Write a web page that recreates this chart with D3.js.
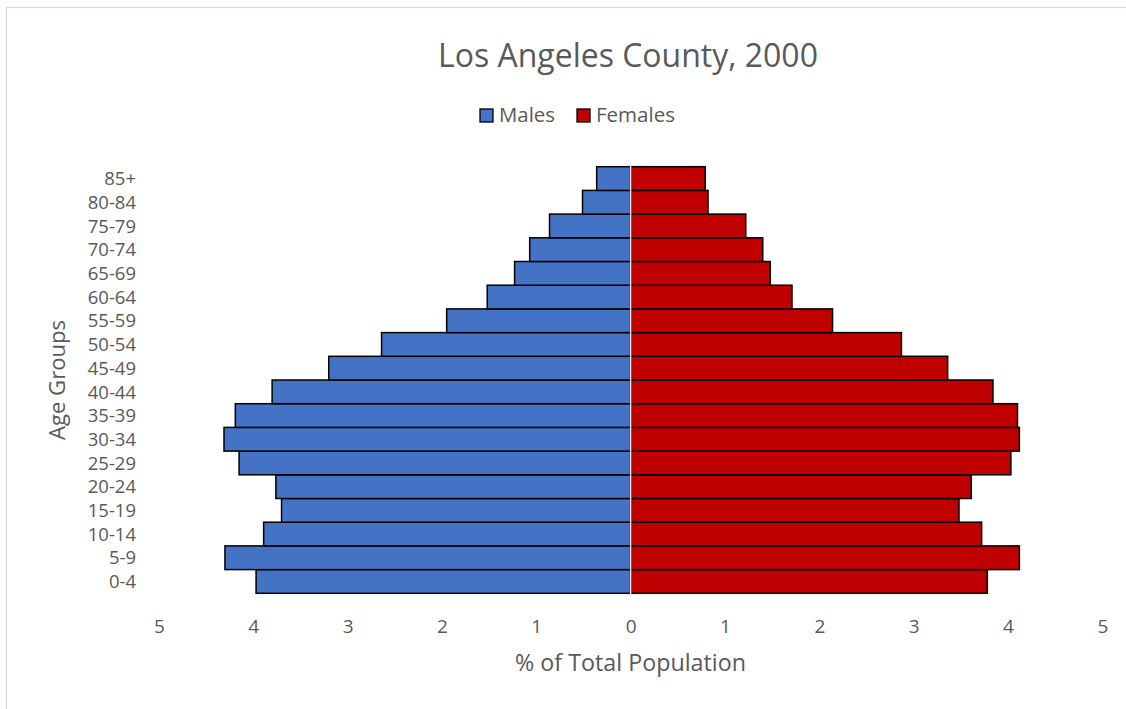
<!DOCTYPE html>
<html>
<head>
<meta charset="utf-8">
<script src="https://cdn.jsdelivr.net/npm/d3@7"></script>
<style>
  html, body { margin: 0; padding: 0; background: #fff; }
  svg { display: block; }
  text { font-family: "Open Sans", "Noto Sans", sans-serif; fill: #595959; }
</style>
</head>
<body>
<script>
// ---- data ----
const ageGroups = ["0-4","5-9","10-14","15-19","20-24","25-29","30-34","35-39","40-44","45-49","50-54","55-59","60-64","65-69","70-74","75-79","80-84","85+"];
const males   = [3.97, 4.30, 3.89, 3.70, 3.76, 4.15, 4.31, 4.19, 3.80, 3.20, 2.64, 1.95, 1.52, 1.23, 1.07, 0.86, 0.51, 0.36];
const females = [3.78, 4.12, 3.72, 3.48, 3.61, 4.03, 4.12, 4.10, 3.84, 3.36, 2.87, 2.14, 1.71, 1.48, 1.40, 1.22, 0.82, 0.79];
const xTicks = [-5,-4,-3,-2,-1,0,1,2,3,4,5];
const seriesNames = ["Males", "Females"];
const seriesColors = ["#4472C4", "#C00000"];
const titleText = "Los Angeles County, 2000";
const xTitle = "% of Total Population";
const yTitle = "Age Groups";

const W = 1126, H = 709;
const svg = d3.select("body").append("svg").attr("width", W).attr("height", H);

// chart border
svg.append("rect").attr("x", 6.5).attr("y", 7.5).attr("width", W).attr("height", H)
  .attr("fill", "none").attr("stroke", "#d9d9d9").attr("stroke-width", 1.3);

const x = d3.scaleLinear().domain([-5, 5]).range([158.9, 1102.4]);
const y = d3.scaleBand().domain(ageGroups.slice().reverse()).range([166.7, 593.3]).paddingInner(0).paddingOuter(0);

function fit(sel, target) {
  // adjust font size so the rendered text width matches the target width
  const fs = parseFloat(sel.attr("font-size"));
  const w = sel.node().getComputedTextLength();
  if (w > 0) sel.attr("font-size", (fs * target / w).toFixed(2));
  return sel;
}

// bars
const g = svg.append("g");
g.selectAll("rect.m").data(ageGroups).join("rect").attr("class", "m")
  .attr("x", (d, i) => x(-males[i]))
  .attr("width", (d, i) => x(0) - x(-males[i]))
  .attr("y", d => y(d))
  .attr("height", y.bandwidth())
  .attr("fill", seriesColors[0]).attr("stroke", "#000").attr("stroke-width", 1.5);
g.selectAll("rect.f").data(ageGroups).join("rect").attr("class", "f")
  .attr("x", x(0))
  .attr("width", (d, i) => x(females[i]) - x(0))
  .attr("y", d => y(d))
  .attr("height", y.bandwidth())
  .attr("fill", seriesColors[1]).attr("stroke", "#000").attr("stroke-width", 1.5);

// zero axis line
svg.append("line").attr("x1", x(0)).attr("x2", x(0)).attr("y1", 166).attr("y2", 594)
  .attr("stroke", "#d9d9d9").attr("stroke-width", 1.5);

// x axis
const xAxis = svg.append("g").attr("transform", "translate(0,610)")
  .call(d3.axisBottom(x).tickValues(xTicks).tickFormat(d => Math.abs(d)).tickSize(0));
xAxis.select(".domain").remove();
xAxis.selectAll("text").attr("y", 23).attr("dy", 0)
  .attr("font-size", 19).attr("font-family", "Open Sans").attr("fill", "#595959");

// y axis
const yAxis = svg.append("g").attr("transform", "translate(136,0)")
  .call(d3.axisLeft(y).tickSize(0).tickPadding(0));
yAxis.select(".domain").remove();
yAxis.selectAll("text").attr("font-size", 18.5).attr("font-family", "Open Sans")
  .attr("fill", "#595959").attr("dy", "0.36em");

// title
fit(svg.append("text").attr("x", 628).attr("y", 67).attr("text-anchor", "middle")
  .attr("font-size", 30).text(titleText), 380);

// axis titles
fit(svg.append("text").attr("x", 630.5).attr("y", 671).attr("text-anchor", "middle")
  .attr("font-size", 20).text(xTitle), 231);
fit(svg.append("text").attr("transform", "translate(65,380) rotate(-90)").attr("text-anchor", "middle")
  .attr("font-size", 20).text(yTitle), 120);

// legend
const legendX = [480, 577];
const legendTextW = [56, 79];
seriesNames.forEach((name, i) => {
  svg.append("rect").attr("x", legendX[i]).attr("y", 109).attr("width", 13).attr("height", 13)
    .attr("fill", seriesColors[i]).attr("stroke", "#000").attr("stroke-width", 1.3);
  fit(svg.append("text").attr("x", legendX[i] + 19).attr("y", 122)
    .attr("font-size", 18).text(name), legendTextW[i]);
});
</script>
</body>
</html>
